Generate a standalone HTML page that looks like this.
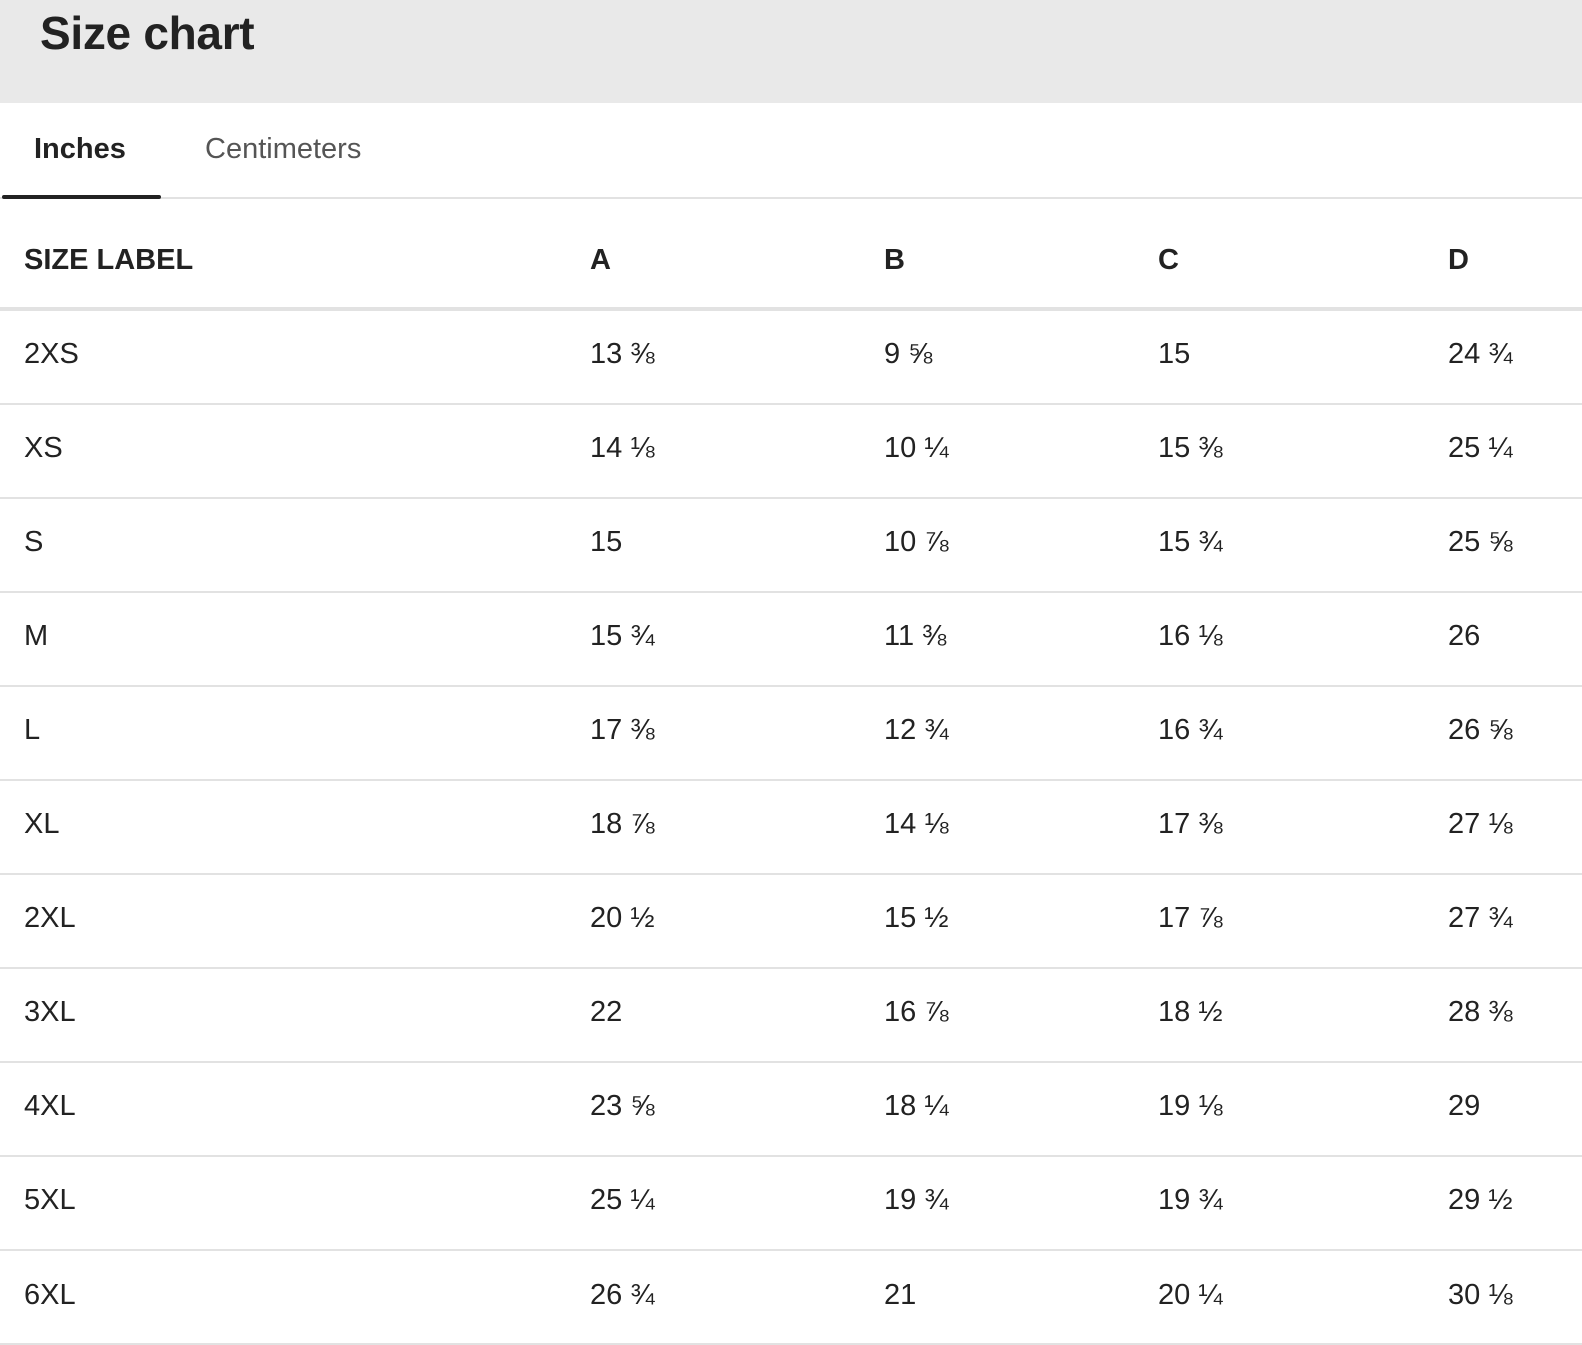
<!DOCTYPE html>
<html><head><meta charset="utf-8"><style>
body{margin:0;width:1582px;height:1344px;background:#fff;position:relative;overflow:hidden;font-family:"Liberation Sans",sans-serif;color:#222}
.hdr{position:absolute;left:0;top:0;width:1582px;height:103px;background:#e9e9e9}
.title{position:absolute;left:40px;top:5px;font-size:46px;font-weight:bold;letter-spacing:-0.3px;line-height:56px}
.tab{position:absolute;top:131px;font-size:29px;line-height:36px}
.line{position:absolute;left:0;width:1582px;background:#e2e2e2}
.c{position:absolute;font-size:29px;line-height:36px;white-space:nowrap}
.h{font-weight:bold}
</style></head><body>
<div class="hdr"></div>
<div class="title">Size chart</div>
<div class="tab" style="left:34px;font-weight:bold;color:#222">Inches</div>
<div class="tab" style="left:205px;color:#555">Centimeters</div>
<div class="line" style="top:197px;height:2px"></div>
<div style="position:absolute;left:2px;top:195px;width:159px;height:4px;background:#222;border-radius:2px"></div>
<div class="c h" style="left:24px;top:242px">SIZE LABEL</div>
<div class="c h" style="left:590px;top:242px">A</div>
<div class="c h" style="left:884px;top:242px">B</div>
<div class="c h" style="left:1158px;top:242px">C</div>
<div class="c h" style="left:1448px;top:242px">D</div>
<div class="line" style="top:307px;height:4px"></div>
<div id="rows"></div>
<script>
var d=[["2XS","13 ⅜","9 ⅝","15","24 ¾"],["XS","14 ⅛","10 ¼","15 ⅜","25 ¼"],["S","15","10 ⅞","15 ¾","25 ⅝"],["M","15 ¾","11 ⅜","16 ⅛","26"],["L","17 ⅜","12 ¾","16 ¾","26 ⅝"],["XL","18 ⅞","14 ⅛","17 ⅜","27 ⅛"],["2XL","20 ½","15 ½","17 ⅞","27 ¾"],["3XL","22","16 ⅞","18 ½","28 ⅜"],["4XL","23 ⅝","18 ¼","19 ⅛","29"],["5XL","25 ¼","19 ¾","19 ¾","29 ½"],["6XL","26 ¾","21","20 ¼","30 ⅛"]];
var xs=[24,590,884,1158,1448],h="";
for(var i=0;i<d.length;i++){var cy=354+i*94.05;
for(var j=0;j<5;j++)h+='<div class="c" style="left:'+xs[j]+'px;top:'+(cy-18)+'px">'+d[i][j]+'</div>';
h+='<div class="line" style="top:'+(402.5+i*94.05)+'px;height:2px"></div>';}
document.getElementById("rows").innerHTML=h;
</script>
</body></html>
